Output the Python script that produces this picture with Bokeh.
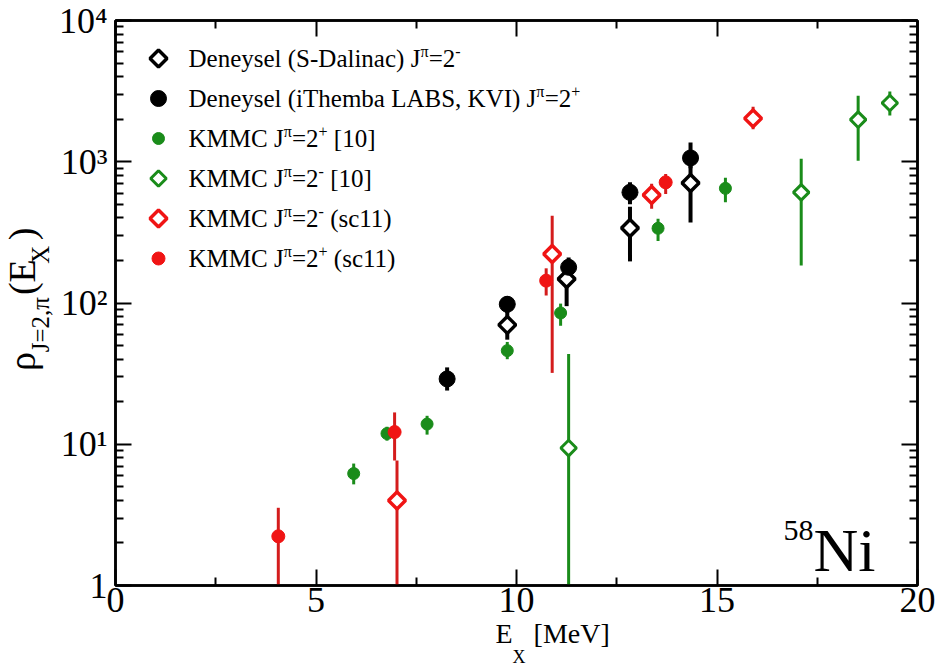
import numpy as np
from bokeh.plotting import figure
from bokeh.models import Range1d, FixedTicker, LinearAxis, LogAxis, Label, Title, ColumnDataSource
from bokeh.embed import file_html
from bokeh.resources import INLINE

# ---------------- data ----------------
# Deneysel (S-Dalinac) J^pi=2^-   (open black diamonds)
sd_E = [9.77, 11.25, 12.83, 14.34]
sd_rho = [70, 148, 340, 708]
sd_lo = [55, 95, 197, 372]
sd_hi = [88, 190, 480, 1000]

# Deneysel (iThemba LABS, KVI) J^pi=2^+   (filled black circles)
it_E = [8.27, 9.77, 11.3, 12.83, 14.34]
it_rho = [29, 98, 179, 607, 1064]
it_lo = [24, 85, 160, 500, 900]
it_hi = [35, 112, 210, 715, 1371]

# KMMC J^pi=2^+ [10]   (filled green circles)
k10p_E = [5.94, 6.77, 7.77, 9.77, 11.1, 13.53, 15.21]
k10p_rho = [6.2, 11.9, 13.9, 46, 85, 338, 648]
k10p_lo = [5.2, 10.6, 11.7, 40, 69, 275, 516]
k10p_hi = [7.3, 13.3, 15.9, 53, 99, 395, 770]

# KMMC J^pi=2^- [10]   (open green diamonds)
k10m_E = [11.3, 17.1, 18.52, 19.31]
k10m_rho = [9.4, 607, 1986, 2607]
k10m_lo = [0.5, 184, 1018, 2124]
k10m_hi = [43.6, 1048, 2937, 3143]

# KMMC J^pi=2^- (sc11)   (open red diamonds)
s11m_E = [7.02, 10.89, 13.37, 15.9]
s11m_rho = [4.0, 222, 582, 2028]
s11m_lo = [0.5, 32, 464, 1700]
s11m_hi = [7.67, 415, 700, 2450]

# KMMC J^pi=2^+ (sc11)   (filled red circles)
s11p_E = [4.06, 6.96, 10.74, 13.72]
s11p_rho = [2.23, 12.2, 144, 715]
s11p_lo = [0.5, 7.67, 113, 590]
s11p_hi = [3.55, 16.8, 176, 820]

x_major = [0, 5, 10, 15, 20]
x_minor = [2.5, 7.5, 12.5, 17.5]
y_major = [1, 10, 100, 1000, 10000]
y_major_labels = ["1", "10\u00b9", "10\u00b2", "10\u00b3", "10\u2074"]
y_minor = [m * 10 ** d for d in range(4) for m in range(2, 10)]

# ---------------- styling ----------------
FONT = "Liberation Serif"
BLACK = "black"
GREEN = "#1a8c1a"
RED = "#f01414"
RED_BAR = "#d41c1c"

FL, FR, FT, FB = 115, 27, 20, 84
W_, H_ = 944, 669
FW, FH = W_ - FL - FR, H_ - FT - FB

p = figure(width=W_, height=H_, x_range=Range1d(0, 20), y_range=Range1d(1, 1e4),
           y_axis_type="log", output_backend="svg", toolbar_location=None,
           min_border_left=FL, min_border_right=FR, min_border_top=FT, min_border_bottom=FB)
p.grid.visible = False
p.outline_line_color = "black"
p.outline_line_width = 2.5
p.background_fill_color = "white"
p.border_fill_color = "white"


def style_axis(ax):
    ax.axis_line_width = 2.5
    ax.axis_line_color = "black"
    ax.major_tick_in = 16
    ax.major_tick_out = 0
    ax.minor_tick_in = 8
    ax.minor_tick_out = 0
    ax.major_tick_line_width = 2
    ax.minor_tick_line_width = 2
    ax.major_tick_line_color = "black"
    ax.minor_tick_line_color = "black"
    ax.major_label_text_font = FONT
    ax.major_label_text_font_size = "36px"
    ax.major_label_text_color = "black"


xb = p.xaxis[0]
xb.ticker = FixedTicker(ticks=x_major, minor_ticks=x_minor)
style_axis(xb)
xb.major_label_standoff = 2

yl = p.yaxis[0]
yl.ticker = FixedTicker(ticks=y_major, minor_ticks=y_minor)
style_axis(yl)
yl.major_label_standoff = 8
yl.major_label_overrides = {t: s for t, s in zip(y_major, y_major_labels)}

xt = LinearAxis(ticker=FixedTicker(ticks=x_major, minor_ticks=x_minor))
style_axis(xt)
xt.major_label_overrides = {t: "" for t in x_major}
p.add_layout(xt, "above")

yr = LogAxis(ticker=FixedTicker(ticks=y_major, minor_ticks=y_minor))
style_axis(yr)
yr.major_label_overrides = {t: "" for t in y_major}
p.add_layout(yr, "right")


def src(E, rho, lo, hi):
    return ColumnDataSource(dict(E=E, rho=rho, lo=lo, hi=hi))


S_sd = src(sd_E, sd_rho, sd_lo, sd_hi)
S_it = src(it_E, it_rho, it_lo, it_hi)
S_k10p = src(k10p_E, k10p_rho, k10p_lo, k10p_hi)
S_k10m = src(k10m_E, k10m_rho, k10m_lo, k10m_hi)
S_s11m = src(s11m_E, s11m_rho, s11m_lo, s11m_hi)
S_s11p = src(s11p_E, s11p_rho, s11p_lo, s11p_hi)

# error bars
for s, c, w in [(S_k10p, GREEN, 3), (S_k10m, GREEN, 3), (S_sd, BLACK, 4), (S_it, BLACK, 4),
                (S_s11m, RED_BAR, 3), (S_s11p, RED_BAR, 3)]:
    p.segment(x0="E", y0="lo", x1="E", y1="hi", source=s, line_color=c, line_width=w)

# marker styles
ST = {
    "sd": dict(marker="square", angle=np.pi / 4, size=12, fill_color="white", line_color=BLACK, line_width=3.5),
    "it": dict(marker="circle", size=16, fill_color=BLACK, line_color=BLACK, line_width=1),
    "k10p": dict(marker="circle", size=12, fill_color=GREEN, line_color=GREEN, line_width=1),
    "k10m": dict(marker="square", angle=np.pi / 4, size=11, fill_color="white", line_color=GREEN, line_width=3),
    "s11m": dict(marker="square", angle=np.pi / 4, size=12, fill_color="white", line_color=RED, line_width=3.5),
    "s11p": dict(marker="circle", size=13, fill_color=RED, line_color=RED, line_width=1),
}

p.scatter("E", "rho", source=S_k10p, **ST["k10p"])
p.scatter("E", "rho", source=S_k10m, **ST["k10m"])
p.scatter("E", "rho", source=S_sd, **ST["sd"])
p.scatter("E", "rho", source=S_it, **ST["it"])
p.scatter("E", "rho", source=S_s11m, **ST["s11m"])
p.scatter("E", "rho", source=S_s11p, **ST["s11p"])

# ---------------- rich text helpers (Times metrics) ----------------
W = {' ': 250, '(': 333, ')': 333, '+': 564, ',': 250, '-': 333, '.': 250, '=': 564, '[': 333, ']': 333,
     'A': 722, 'B': 667, 'C': 667, 'D': 722, 'E': 611, 'I': 333, 'J': 389, 'K': 722, 'L': 611, 'M': 889,
     'N': 722, 'S': 556, 'T': 611, 'V': 722, 'X': 722, 'a': 444, 'b': 500, 'c': 444, 'd': 500, 'e': 444,
     'h': 500, 'i': 278, 'k': 500, 'l': 278, 'm': 778, 'n': 500, 'p': 500, 'r': 333, 's': 389, 'x': 500,
     'y': 500, '\u03c1': 500, '\u03c0': 520}
for d in "0123456789":
    W[d] = 500

BASE_FIX = 0.33  # Label draws ~0.33 em below the requested alphabetic baseline


def tw(s, size):
    return sum(W.get(c, 500) for c in s) * size / 1000.0


def gap(width_px, size):
    """Non-collapsing unicode spaces approximating a horizontal gap at a font size."""
    em = width_px / size
    out = ""
    for ch, w in [("\u2003", 1.0), ("\u2002", 0.5), ("\u2004", 1 / 3), ("\u2005", 0.25), ("\u2006", 1 / 6)]:
        while em >= w - 0.04:
            out += ch
            em -= w
    return out


def rich(x, y, runs, color="black"):
    off = 0.0
    for text, size, dy in runs:
        stripped = text.lstrip(" ")
        off += tw(text[:len(text) - len(stripped)], size)
        p.add_layout(Label(x=x + off, y=y + dy + BASE_FIX * size, x_units="screen", y_units="screen",
                           text=stripped, text_font=FONT, text_font_size=f"{size}px", text_color=color,
                           text_baseline="alphabetic", text_align="left"))
        off += tw(stripped, size)


def title(text, size, side, offset, standoff):
    p.add_layout(Title(text=text, text_font=FONT, text_font_size=f"{size}px", text_font_style="normal",
                       text_color="black", align="left", offset=offset, standoff=standoff), side)


# ---------------- legend (swatches + texts) ----------------
def screen_to_data(sx, sy):
    return 20.0 * sx / FW, 10 ** (4.0 * sy / FH)


LF, LS, LR = 25, 16, 10
PI = "\u03c0"
legend_rows = [
    ("sd", [("Deneysel (S-Dalinac) J", LF, 0), (PI, LS, LR), ("=2", LF, 0), ("-", LS, LR)]),
    ("it", [("Deneysel (iThemba LABS, KVI) J", LF, 0), (PI, LS, LR), ("=2", LF, 0), ("+", LS, LR)]),
    ("k10p", [("KMMC J", LF, 0), (PI, LS, LR), ("=2", LF, 0), ("+", LS, LR), (" [10]", LF, 0)]),
    ("k10m", [("KMMC J", LF, 0), (PI, LS, LR), ("=2", LF, 0), ("-", LS, LR), (" [10]", LF, 0)]),
    ("s11m", [("KMMC J", LF, 0), (PI, LS, LR), ("=2", LF, 0), ("-", LS, LR), (" (sc11)", LF, 0)]),
    ("s11p", [("KMMC J", LF, 0), (PI, LS, LR), ("=2", LF, 0), ("+", LS, LR), (" (sc11)", LF, 0)]),
]
sw_x, row0, dy_row = 43, 527, 40
for i, (key, runs) in enumerate(legend_rows):
    cy = row0 - i * dy_row
    lx, ly = screen_to_data(sw_x, cy)
    p.scatter([lx], [ly], **ST[key])
    rich(73, cy - 8, runs)

rich(668, 15, [("58", 30, 30), ("Ni", 62, 0)])

# ---------------- axis titles (side-panel titles, composed with fixed spaces) ----------------
XF, XS = 28, 18
x_start = 380  # px from frame left
title("E" + gap(tw("X", XS) + tw(" ", XF), XF) + "[MeV]", XF, "below", x_start, 3)
title("X", XS, "below", x_start + tw("E", XF), -12)

YF, YS = 38, 25
sub1, sub2 = "J=2," + PI, "X"
y_len = tw("\u03c1", YF) + tw(sub1, YS) + tw("(E", YF) + tw(sub2, YS) + tw(")", YF)
y_start = 285 - y_len / 2  # px above frame bottom
y_sub = gap(tw("\u03c1", YF), YS) + sub1 + gap(tw("(E", YF), YS) + sub2
y_main = "\u03c1" + gap(tw(sub1, YS), YF) + "(E" + gap(tw(sub2, YS), YF) + ")"
title(y_sub, YS, "left", y_start, 3)
title(y_main, YF, "left", y_start, -39)

open("out.html", "w").write(file_html(p, INLINE))
